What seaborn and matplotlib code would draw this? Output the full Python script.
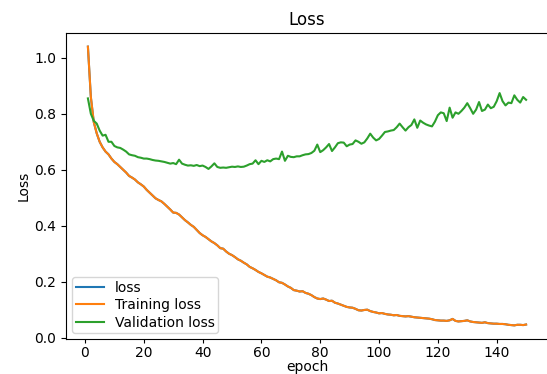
import matplotlib
matplotlib.use("Agg")
import matplotlib.pyplot as plt
import seaborn as sns
import pandas as pd

epochs = list(range(1, 151))

training_loss = [
    1.04, 0.86, 0.77, 0.73, 0.70, 0.68, 0.665, 0.655, 0.64, 0.628,
    0.62, 0.61, 0.60, 0.59, 0.578, 0.572, 0.565, 0.555, 0.548, 0.54,
    0.528, 0.518, 0.508, 0.498, 0.492, 0.487, 0.478, 0.468, 0.458, 0.447,
    0.446, 0.44, 0.43, 0.42, 0.412, 0.403, 0.396, 0.385, 0.374, 0.366,
    0.36, 0.352, 0.344, 0.338, 0.33, 0.32, 0.318, 0.308, 0.30, 0.295,
    0.288, 0.28, 0.275, 0.268, 0.262, 0.253, 0.248, 0.242, 0.235, 0.23,
    0.224, 0.218, 0.215, 0.21, 0.205, 0.198, 0.196, 0.19, 0.183, 0.178,
    0.17, 0.168, 0.165, 0.166, 0.16, 0.157, 0.152, 0.145, 0.14, 0.138,
    0.14, 0.136, 0.131, 0.132, 0.125, 0.122, 0.118, 0.114, 0.11, 0.108,
    0.107, 0.103, 0.098, 0.097, 0.099, 0.1, 0.095, 0.092, 0.09, 0.087,
    0.088, 0.085, 0.083, 0.082, 0.08, 0.081, 0.078, 0.077, 0.076, 0.077,
    0.075, 0.073, 0.072, 0.071, 0.07, 0.069, 0.068, 0.066, 0.063, 0.062,
    0.061, 0.061, 0.06, 0.062, 0.067, 0.06, 0.058, 0.059, 0.06, 0.062,
    0.058, 0.056, 0.055, 0.054, 0.053, 0.055, 0.052, 0.051, 0.05, 0.05,
    0.049, 0.049, 0.048, 0.046, 0.045, 0.044, 0.046, 0.046, 0.045, 0.047,
]

# "loss" series coincides with the training loss (hidden beneath it)
loss = list(training_loss)

validation_loss = [
    0.855, 0.80, 0.775, 0.765, 0.74, 0.722, 0.725, 0.70, 0.70, 0.685,
    0.68, 0.678, 0.672, 0.665, 0.655, 0.652, 0.65, 0.645, 0.643, 0.64,
    0.64, 0.638, 0.635, 0.633, 0.632, 0.63, 0.628, 0.625, 0.622, 0.624,
    0.62, 0.636, 0.622, 0.618, 0.615, 0.616, 0.614, 0.617, 0.613, 0.615,
    0.61, 0.603, 0.612, 0.623, 0.61, 0.607, 0.608, 0.607, 0.609, 0.611,
    0.61, 0.612, 0.61, 0.611, 0.615, 0.62, 0.622, 0.634, 0.62, 0.632,
    0.628, 0.634, 0.63, 0.638, 0.64, 0.638, 0.665, 0.632, 0.65, 0.646,
    0.645, 0.648, 0.648, 0.652, 0.655, 0.656, 0.66, 0.668, 0.69, 0.663,
    0.67, 0.68, 0.692, 0.667, 0.68, 0.695, 0.698, 0.697, 0.684, 0.69,
    0.692, 0.705, 0.70, 0.693, 0.698, 0.712, 0.729, 0.715, 0.705, 0.71,
    0.722, 0.735, 0.737, 0.74, 0.742, 0.752, 0.765, 0.752, 0.74, 0.752,
    0.76, 0.78, 0.75, 0.776, 0.768, 0.762, 0.758, 0.755, 0.772, 0.795,
    0.805, 0.802, 0.774, 0.822, 0.786, 0.805, 0.80, 0.81, 0.822, 0.838,
    0.82, 0.80, 0.815, 0.842, 0.81, 0.815, 0.833, 0.82, 0.825, 0.845,
    0.874, 0.845, 0.83, 0.84, 0.838, 0.866, 0.85, 0.84, 0.86, 0.85,
]

series_names = ["loss", "Training loss", "Validation loss"]
series_colors = ["#1f77b4", "#ff7f0e", "#2ca02c"]

fig = plt.figure(figsize=(5.47, 3.74), dpi=100)
ax = fig.add_axes([66 / 547, (374 - 339.3) / 374, 482 / 547, (339.3 - 32.7) / 374])

for name, values, color in zip(series_names, [loss, training_loss, validation_loss], series_colors):
    df = pd.DataFrame({"epoch": epochs, "value": values})
    sns.lineplot(data=df, x="epoch", y="value", ax=ax, color=color, label=name, linewidth=1.5)

ax.set_title("Loss", fontsize=12, pad=5.5)
ax.set_xlabel("epoch", fontsize=10, labelpad=0)
ax.set_ylabel("Loss", fontsize=10, labelpad=2.5)
ax.set_xticks([0, 20, 40, 60, 80, 100, 120, 140])
ax.set_yticks([0.0, 0.2, 0.4, 0.6, 0.8, 1.0])
ax.tick_params(axis="x", labelsize=10, length=3, pad=1.5)
ax.tick_params(axis="y", labelsize=10, length=3.5, pad=3.5)
ax.legend(loc="lower left", fontsize=10, labelspacing=0.25, borderpad=0.25,
          borderaxespad=0.45)

fig.savefig("out.png", dpi=100)
